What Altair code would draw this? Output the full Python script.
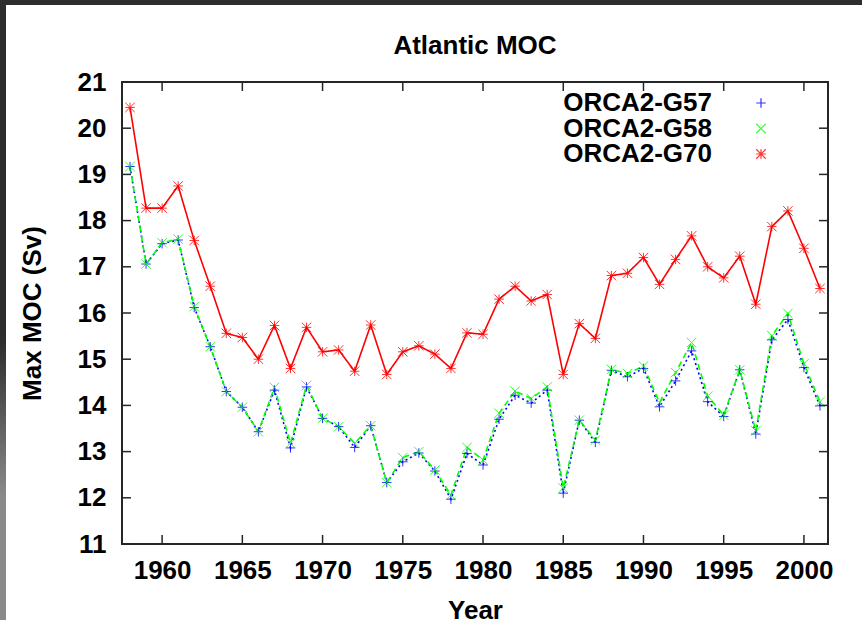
import altair as alt
import pandas as pd

# Annual maximum of the Atlantic meridional overturning circulation (Sv)
years = list(range(1958, 2002))

g57 = [19.17, 17.06, 17.50, 17.58, 16.12, 15.27, 14.30, 13.96, 13.43, 14.33,
       13.08, 14.40, 13.72, 13.54, 13.09, 13.56, 12.33, 12.78, 12.97, 12.58,
       11.97, 12.96, 12.71, 13.70, 14.22, 14.05, 14.33, 12.10, 13.68, 13.20,
       14.76, 14.62, 14.80, 13.97, 14.53, 15.18, 14.08, 13.76, 14.77, 13.38,
       15.42, 15.86, 14.82, 13.99]

g58 = [19.17, 17.06, 17.52, 17.60, 16.14, 15.27, 14.30, 13.96, 13.43, 14.39,
       13.18, 14.43, 13.72, 13.54, 13.18, 13.56, 12.33, 12.87, 13.00, 12.60,
       12.06, 13.09, 12.82, 13.83, 14.31, 14.15, 14.40, 12.21, 13.68, 13.25,
       14.78, 14.69, 14.85, 14.06, 14.71, 15.36, 14.20, 13.79, 14.77, 13.45,
       15.51, 15.99, 14.90, 14.08]

g70 = [20.45, 18.27, 18.27, 18.75, 17.57, 16.58, 15.56, 15.47, 15.00, 15.73,
       14.80, 15.69, 15.16, 15.20, 14.74, 15.74, 14.67, 15.16, 15.29, 15.11,
       14.80, 15.57, 15.54, 16.30, 16.58, 16.26, 16.40, 14.67, 15.77, 15.45,
       16.81, 16.86, 17.20, 16.62, 17.16, 17.67, 17.00, 16.76, 17.23, 16.19,
       17.87, 18.21, 17.40, 16.53]

run_names = ["ORCA2-G57", "ORCA2-G58", "ORCA2-G70"]
run_colors = ["#0000ff", "#00ff00", "#ff0000"]

x_ticks = [1960, 1965, 1970, 1975, 1980, 1985, 1990, 1995, 2000]
y_ticks = [11, 12, 13, 14, 15, 16, 17, 18, 19, 20, 21]

rows = []
for name, vals in zip(run_names, [g57, g58, g70]):
    for yr, v in zip(years, vals):
        rows.append({"year": yr, "moc": v, "run": name})
df = pd.DataFrame(rows)

FONT = "Liberation Sans"
INK = "#262626"
W, H = 706, 462
TICK = 9
X_TITLE = "Year"
Y_TITLE = "Max MOC (Sv)"

# gnuplot-like point symbols: plus, cross and asterisk
PLUS = "M-1,0L1,0M0,-1L0,1"
CROSS = "M-1,-1L1,1M-1,1L1,-1"
STAR = "M-1,0L1,0M0,-1L0,1M-1,-1L1,1M-1,1L1,-1"
run_shapes = [PLUS, CROSS, STAR]

x_scale = alt.Scale(domain=[1957.5, 2001.5], nice=False, zero=False)
y_scale = alt.Scale(domain=[11, 21], nice=False, zero=False)
color_scale = alt.Scale(domain=run_names, range=run_colors)
dash_scale = alt.Scale(domain=run_names, range=[[2, 3], [6, 4], [1, 0]])
shape_scale = alt.Scale(domain=run_names, range=run_shapes)

x_axis = alt.Axis(
    values=x_ticks, format="d", ticks=False, domain=False, grid=False,
    labelFont=FONT, labelFontSize=26, labelFontWeight="bold", labelColor="black",
    labelPadding=13, labelFlush=False, labelOverlap=False,
    titleFont=FONT, titleFontSize=26, titleFontWeight="bold",
    titleColor="black", titleX=W / 2, titleY=74, titleAlign="center",
    titleBaseline="alphabetic",
)
y_axis = alt.Axis(
    values=y_ticks, format="d", ticks=False, domain=False, grid=False,
    labelFont=FONT, labelFontSize=26, labelFontWeight="bold", labelColor="black",
    labelPadding=16, labelFlush=False, labelOverlap=False,
    titleFont=FONT, titleFontSize=26, titleFontWeight="bold",
    titleColor="black", titleAngle=270, titleX=-90, titleY=H / 2,
    titleAlign="center", titleBaseline="middle",
)

base = alt.Chart(df)

lines = base.mark_line(strokeWidth=1.6).encode(
    x=alt.X("year:Q", scale=x_scale, axis=x_axis, title=X_TITLE),
    y=alt.Y("moc:Q", scale=y_scale, axis=y_axis, title=Y_TITLE),
    color=alt.Color("run:N", scale=color_scale, legend=None),
    strokeDash=alt.StrokeDash("run:N", scale=dash_scale, legend=None),
)

points = base.mark_point(filled=False, size=90, strokeWidth=1, opacity=0.8).encode(
    x=alt.X("year:Q", scale=x_scale, title=X_TITLE),
    y=alt.Y("moc:Q", scale=y_scale, title=Y_TITLE),
    color=alt.Color("run:N", scale=color_scale, legend=None),
    shape=alt.Shape("run:N", scale=shape_scale, legend=None),
)

# key in the upper right: right-aligned run name, symbol to its right
key_layers = []
for i, (name, col, shp) in enumerate(zip(run_names, run_colors, run_shapes)):
    row_y = 21 + 25.5 * i
    entry = alt.Data(values=[{"run": name}])
    key_layers.append(
        alt.Chart(entry).mark_text(
            align="right", baseline="middle", font=FONT, fontSize=26,
            fontWeight="bold", color="black",
        ).encode(text="run:N", x=alt.value(590), y=alt.value(row_y))
    )
    key_layers.append(
        alt.Chart(entry).mark_point(
            shape=shp, size=90, filled=False, color=col, strokeWidth=1.2, opacity=0.8,
        ).encode(x=alt.value(639), y=alt.value(row_y))
    )

# inward tick marks on all four sides of the frame
xt = pd.DataFrame({"tick": x_ticks})
yt = pd.DataFrame({"tick": y_ticks})
tick_style = dict(color=INK, strokeWidth=1.5)
ticks_bottom = alt.Chart(xt).mark_rule(**tick_style).encode(
    x=alt.X("tick:Q", scale=x_scale, title=X_TITLE), y=alt.value(H), y2=alt.value(H - TICK))
ticks_top = alt.Chart(xt).mark_rule(**tick_style).encode(
    x=alt.X("tick:Q", scale=x_scale, title=X_TITLE), y=alt.value(0), y2=alt.value(TICK))
ticks_left = alt.Chart(yt).mark_rule(**tick_style).encode(
    y=alt.Y("tick:Q", scale=y_scale, title=Y_TITLE), x=alt.value(0), x2=alt.value(TICK))
ticks_right = alt.Chart(yt).mark_rule(**tick_style).encode(
    y=alt.Y("tick:Q", scale=y_scale, title=Y_TITLE), x=alt.value(W), x2=alt.value(W - TICK))

# chart heading above the frame
heading = alt.Chart(alt.Data(values=[{"label": "Atlantic MOC"}])).mark_text(
    align="center", baseline="alphabetic", font=FONT, fontSize=26,
    fontWeight="bold", color="black",
).encode(text="label:N", x=alt.value(W / 2), y=alt.value(-28))

# dark window edge along the top and left of the canvas
edge_data = alt.Data(values=[{}])
edge_top = alt.Chart(edge_data).mark_rect(color="#2d2d2d").encode(
    x=alt.value(-122), x2=alt.value(W + 34), y=alt.value(-82), y2=alt.value(-77))
edge_left = alt.Chart(edge_data).mark_rect(
    fill=alt.Gradient(
        gradient="linear", x1=0, x2=0, y1=0, y2=1,
        stops=[alt.GradientStop(offset=0, color="#2d2d2d"),
               alt.GradientStop(offset=0.55, color="#2d2d2d"),
               alt.GradientStop(offset=0.8, color="#8a8a8a"),
               alt.GradientStop(offset=1, color="#8a8a8a")])
).encode(x=alt.value(-122), x2=alt.value(-116), y=alt.value(-82), y2=alt.value(H + 76))

chart = alt.layer(
    edge_top, edge_left, lines, points,
    ticks_bottom, ticks_top, ticks_left, ticks_right,
    *key_layers, heading,
).properties(
    width=W, height=H,
    autosize=alt.AutoSizeParams(type="none"),
    padding={"left": 122, "top": 82, "right": 34, "bottom": 76},
    background="white",
).configure_view(stroke=INK, strokeWidth=2)

chart.save("out.html", embed_options={"renderer": "svg", "actions": False})
